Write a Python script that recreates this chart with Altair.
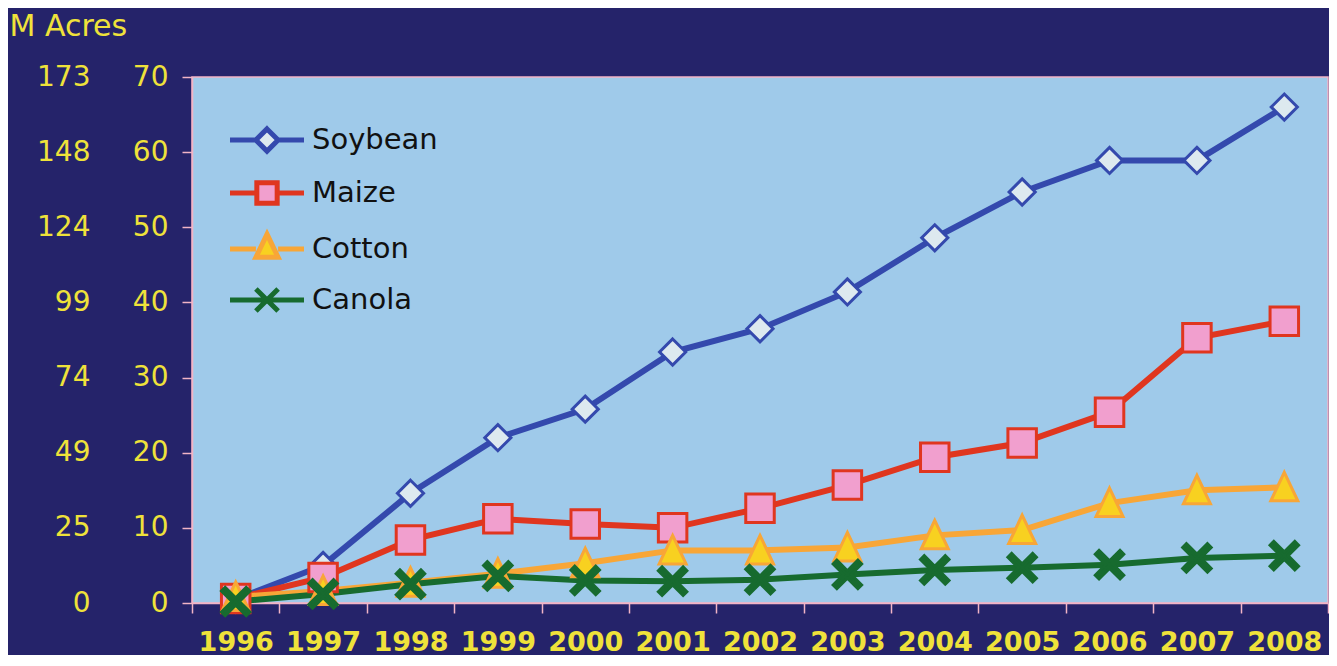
import altair as alt
import pandas as pd

years = [str(y) for y in range(1996, 2009)]
series_names = ["Soybean", "Maize", "Cotton", "Canola"]
soybean = [0.5, 5.0, 14.6, 22.0, 25.8, 33.4, 36.5, 41.4, 48.6, 54.7, 58.9, 58.9, 66.0]
maize = [0.6, 3.4, 8.4, 11.2, 10.5, 10.0, 12.6, 15.7, 19.4, 21.3, 25.4, 35.3, 37.5]
cotton = [0.8, 1.6, 2.7, 3.9, 5.3, 7.0, 7.0, 7.4, 9.0, 9.7, 13.3, 15.0, 15.4]
canola = [0.2, 1.2, 2.5, 3.6, 3.0, 2.9, 3.1, 3.8, 4.4, 4.7, 5.1, 6.0, 6.3]
ha_ticks = [0, 10, 20, 30, 40, 50, 60, 70]
acre_labels = ["0", "25", "49", "74", "99", "124", "148", "173"]

rows = []
for name, vals in zip(series_names, [soybean, maize, cotton, canola]):
    for yr, v in zip(years, vals):
        rows.append({"year": yr, "series": name, "value": v})
df = pd.DataFrame(rows)

FONT = "DejaVu Sans"
YELLOW = "#efe23a"
PINK = "#f2b4c6"
line_colors = ["#3449ad", "#e0361f", "#f8a637", "#176b2f"]
fill_colors = ["#dde9ef", "#f19fce", "#f8d120", "#176b2f"]

# plot marker shapes (unit box -1..1)
marker_paths = [
    "M0,-0.87L0.87,0L0,0.87L-0.87,0Z",
    "M-0.95,-0.95L0.95,-0.95L0.95,0.95L-0.95,0.95Z",
    "M0,-1L0.9,0.9L-0.9,0.9Z",
    "M0,-0.25L0.7,-0.95L0.95,-0.7L0.25,0L0.95,0.7L0.7,0.95L0,0.25L-0.7,0.95L-0.95,0.7L-0.25,0L-0.95,-0.7L-0.7,-0.95Z",
]
# legend symbols: line segment + marker (drawn wider than the unit box)
legend_paths = [
    "M-2,0L-0.6,0M0.6,0L2,0M0,-0.6L0.6,0L0,0.6L-0.6,0Z",
    "M-2,0L-0.55,0M0.55,0L2,0M-0.55,-0.55L0.55,-0.55L0.55,0.55L-0.55,0.55Z",
    "M-2,0L-0.6,0M0.6,0L2,0M0,-0.8L0.6,0.45L-0.6,0.45Z",
    "M-2,0L2,0M-0.6,-0.6L0.6,0.6M-0.6,0.6L0.6,-0.6",
]

x_enc = alt.X(
    "year:O",
    sort=years,
    bandPosition=0.5,
    scale=alt.Scale(type="band", paddingInner=0, paddingOuter=0),
    axis=alt.Axis(
        title=None,
        labelAngle=0,
        tickBand="extent",
        tickSize=10,
        tickColor=PINK,
        tickWidth=1.5,
        domainColor=PINK,
        domainWidth=1.5,
        labelColor=YELLOW,
        labelFont=FONT,
        labelFontSize=27,
        labelFontWeight="bold",
        labelBaseline="alphabetic",
        labelPadding=37,
        grid=False,
    ),
)

yscale = alt.Scale(domain=[0, 70], nice=False)

base = alt.Chart(df)

lines = base.mark_line(strokeWidth=6).encode(
    x=x_enc,
    y=alt.Y(
        "value:Q",
        scale=yscale,
        axis=alt.Axis(
            title=None,
            orient="left",
            values=ha_ticks,
            tickSize=10,
            tickColor=PINK,
            tickWidth=1.5,
            domainColor=PINK,
            domainWidth=1.5,
            labelColor=YELLOW,
            labelFont=FONT,
            labelFontSize=28,
            labelPadding=14,
            grid=False,
        ),
    ),
    color=alt.Color("series:N", scale=alt.Scale(domain=series_names, range=line_colors), legend=None),
    detail="series:N",
)

markers = base.mark_point(size=900, opacity=1, filled=False, strokeWidth=3).encode(
    x=x_enc,
    y=alt.Y("value:Q", scale=yscale, axis=None),
    shape=alt.Shape("series:N", scale=alt.Scale(domain=series_names, range=marker_paths), legend=None),
    fill=alt.Fill("series:N", scale=alt.Scale(domain=series_names, range=fill_colors), legend=None),
    stroke=alt.Stroke("series:N", scale=alt.Scale(domain=series_names, range=line_colors), legend=None),
)

acre_expr = "[" + ",".join("'%s'" % a for a in acre_labels) + "][round(datum.value/10)]"

leg = alt.Legend(
    title=None,
    orient="none",
    legendX=54,
    legendY=42,
    symbolSize=1369,
    symbolStrokeWidth=5,
    symbolOpacity=1,
    labelFont=FONT,
    labelFontSize=29,
    labelColor="#111111",
    labelOffset=24,
    rowPadding=10,
    labelLimit=300,
)

legend_layer = base.mark_point(size=0, opacity=0, filled=False).encode(
    x=x_enc,
    y=alt.Y(
        "value:Q",
        scale=yscale,
        axis=alt.Axis(
            orient="left",
            values=ha_ticks,
            offset=102,
            ticks=False,
            domain=False,
            grid=False,
            labelExpr=acre_expr,
            labelColor=YELLOW,
            labelFont=FONT,
            labelFontSize=28,
            labelPadding=0,
            title="M Acres",
            titleAngle=0,
            titleAlign="left",
            titleBaseline="alphabetic",
            titleX=-81,
            titleY=-42,
            titleColor=YELLOW,
            titleFont=FONT,
            titleFontSize=30,
            titleFontWeight="normal",
        ),
    ),
    shape=alt.Shape("series:N", scale=alt.Scale(domain=series_names, range=legend_paths), legend=leg),
    fill=alt.Fill("series:N", scale=alt.Scale(domain=series_names, range=fill_colors), legend=leg),
    stroke=alt.Stroke("series:N", scale=alt.Scale(domain=series_names, range=line_colors), legend=leg),
)

chart = (
    alt.layer(lines, markers, legend_layer)
    .resolve_scale(
        y="independent",
        color="independent",
        fill="independent",
        stroke="independent",
        shape="independent",
    )
    .resolve_axis(y="independent")
    .properties(
        width=1136,
        height=526,
        background="#25236a",
        padding={"left": 184, "top": 69, "right": 1, "bottom": 52},
        autosize=alt.AutoSizeParams(type="none"),
    )
    .configure_view(fill="#9fcaea", stroke=PINK, strokeWidth=1.5)
)

chart.save("out.html", embed_options={"renderer": "svg", "actions": False})
